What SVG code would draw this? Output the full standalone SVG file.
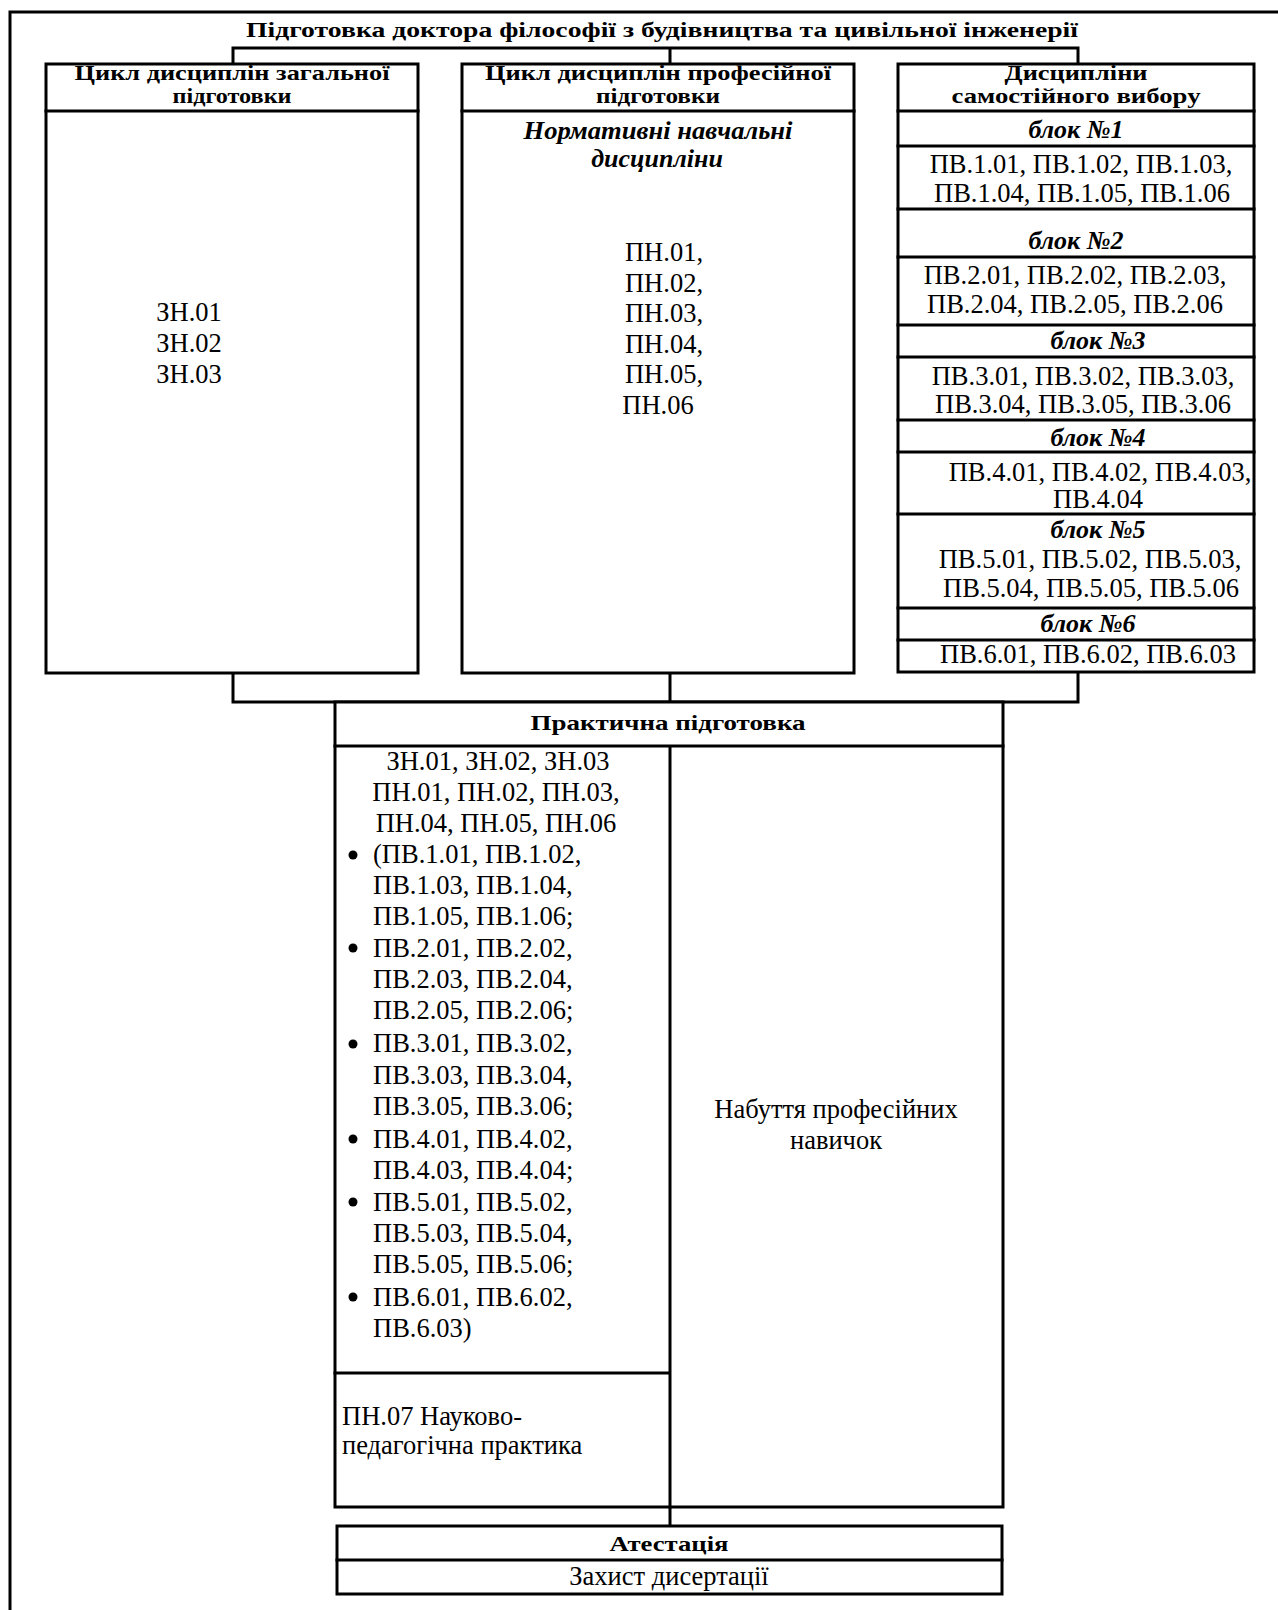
<svg xmlns="http://www.w3.org/2000/svg" width="1278" height="1610" viewBox="0 0 1278 1610">
<style>
.box{fill:#fff;stroke:#000;stroke-width:3}
.ln{fill:none;stroke:#000;stroke-width:3;stroke-linecap:square}
.hd{font-family:"Liberation Serif","Times New Roman",serif;font-weight:bold;font-size:21px;fill:#000;text-anchor:middle}
.bi{font-family:"Liberation Serif","Times New Roman",serif;font-weight:bold;font-style:italic;font-size:26px;fill:#000;text-anchor:middle}
.tx{font-family:"Liberation Serif","Times New Roman",serif;font-size:26.5px;fill:#000;text-anchor:middle}
.tl{font-family:"Liberation Serif","Times New Roman",serif;font-size:26.5px;fill:#000}
</style>
<rect width="1278" height="1610" fill="#fff"/>
<path class="ln" d="M10,1612 V12 H1280"/>
<text class="hd" x="662" y="37" font-size="24" textLength="832" lengthAdjust="spacingAndGlyphs">Підготовка доктора філософії з будівництва та цивільної інженерії</text>
<g id="connectors">
<path class="ln" d="M233,64 V48 H1078 V64 M670,48 V64"/>
<path class="ln" d="M233,673 V702 H1078 V673 M670,673 V702"/>
<path class="ln" d="M670,1506 V1526"/>
</g>
<g id="general">
<rect class="box" x="46" y="64" width="372" height="609"/>
<path class="ln" d="M46,111 H418"/>
<text class="hd" x="232" y="80" textLength="315" lengthAdjust="spacingAndGlyphs">Цикл дисциплін загальної</text>
<text class="hd" x="232" y="103" textLength="119" lengthAdjust="spacingAndGlyphs">підготовки</text>
<text class="tx" x="189" y="321">ЗН.01</text>
<text class="tx" x="189" y="352">ЗН.02</text>
<text class="tx" x="189" y="383">ЗН.03</text>
</g>
<g id="professional">
<rect class="box" x="462" y="64" width="392" height="609"/>
<path class="ln" d="M462,111 H854"/>
<text class="hd" x="658" y="80" textLength="346" lengthAdjust="spacingAndGlyphs">Цикл дисциплін професійної</text>
<text class="hd" x="658" y="103" textLength="124" lengthAdjust="spacingAndGlyphs">підготовки</text>
<text class="bi" x="658" y="139" font-size="25" textLength="269" lengthAdjust="spacingAndGlyphs">Нормативні навчальні</text>
<text class="bi" x="657" y="167" font-size="25">дисципліни</text>
<text class="tx" x="664" y="261">ПН.01,</text>
<text class="tx" x="664" y="292">ПН.02,</text>
<text class="tx" x="664" y="322">ПН.03,</text>
<text class="tx" x="664" y="353">ПН.04,</text>
<text class="tx" x="664" y="383">ПН.05,</text>
<text class="tx" x="658" y="414">ПН.06</text>
</g>
<g id="elective">
<rect class="box" x="898" y="64" width="356" height="608"/>
<path class="ln" d="M898,111 H1254 M898,146 H1254 M898,209 H1254 M898,257 H1254 M898,325 H1254 M898,357 H1254 M898,420 H1254 M898,452 H1254 M898,514 H1254 M898,608 H1254 M898,640 H1254"/>
<text class="hd" x="1076" y="80" textLength="143" lengthAdjust="spacingAndGlyphs">Дисципліни</text>
<text class="hd" x="1076" y="103" textLength="249" lengthAdjust="spacingAndGlyphs">самостійного вибору</text>
<text class="bi" x="1076" y="138">блок №1</text>
<text class="tx" x="1081" y="173">ПВ.1.01, ПВ.1.02, ПВ.1.03,</text>
<text class="tx" x="1082" y="202">ПВ.1.04, ПВ.1.05, ПВ.1.06</text>
<text class="bi" x="1076" y="249">блок №2</text>
<text class="tx" x="1075" y="284">ПВ.2.01, ПВ.2.02, ПВ.2.03,</text>
<text class="tx" x="1075" y="313">ПВ.2.04, ПВ.2.05, ПВ.2.06</text>
<text class="bi" x="1098" y="349">блок №3</text>
<text class="tx" x="1083" y="385">ПВ.3.01, ПВ.3.02, ПВ.3.03,</text>
<text class="tx" x="1083" y="413">ПВ.3.04, ПВ.3.05, ПВ.3.06</text>
<text class="bi" x="1098" y="446">блок №4</text>
<text class="tx" x="1100" y="481">ПВ.4.01, ПВ.4.02, ПВ.4.03,</text>
<text class="tx" x="1098" y="508">ПВ.4.04</text>
<text class="bi" x="1098" y="538">блок №5</text>
<text class="tx" x="1090" y="568">ПВ.5.01, ПВ.5.02, ПВ.5.03,</text>
<text class="tx" x="1091" y="597">ПВ.5.04, ПВ.5.05, ПВ.5.06</text>
<text class="bi" x="1088" y="632">блок №6</text>
<text class="tx" x="1088" y="663">ПВ.6.01, ПВ.6.02, ПВ.6.03</text>
</g>
<g id="practical">
<rect class="box" x="335" y="702" width="668" height="805"/>
<path class="ln" d="M335,746 H1003 M670,746 V1507 M335,1373 H670"/>
<text class="hd" x="668" y="730" font-size="24" textLength="275" lengthAdjust="spacingAndGlyphs">Практична підготовка</text>
<text class="tx" x="498" y="770">ЗН.01, ЗН.02, ЗН.03</text>
<text class="tx" x="496" y="801">ПН.01, ПН.02, ПН.03,</text>
<text class="tx" x="496" y="832">ПН.04, ПН.05, ПН.06</text>
<g>
<circle cx="353" cy="855" r="4.5"/>
<circle cx="353" cy="948" r="4.5"/>
<circle cx="353" cy="1044" r="4.5"/>
<circle cx="353" cy="1139" r="4.5"/>
<circle cx="353" cy="1202" r="4.5"/>
<circle cx="353" cy="1297" r="4.5"/>
</g>
<text class="tl" x="373" y="863">(ПВ.1.01, ПВ.1.02,</text>
<text class="tl" x="373" y="894">ПВ.1.03, ПВ.1.04,</text>
<text class="tl" x="373" y="925">ПВ.1.05, ПВ.1.06;</text>
<text class="tl" x="373" y="957">ПВ.2.01, ПВ.2.02,</text>
<text class="tl" x="373" y="988">ПВ.2.03, ПВ.2.04,</text>
<text class="tl" x="373" y="1019">ПВ.2.05, ПВ.2.06;</text>
<text class="tl" x="373" y="1052">ПВ.3.01, ПВ.3.02,</text>
<text class="tl" x="373" y="1084">ПВ.3.03, ПВ.3.04,</text>
<text class="tl" x="373" y="1115">ПВ.3.05, ПВ.3.06;</text>
<text class="tl" x="373" y="1148">ПВ.4.01, ПВ.4.02,</text>
<text class="tl" x="373" y="1179">ПВ.4.03, ПВ.4.04;</text>
<text class="tl" x="373" y="1211">ПВ.5.01, ПВ.5.02,</text>
<text class="tl" x="373" y="1242">ПВ.5.03, ПВ.5.04,</text>
<text class="tl" x="373" y="1273">ПВ.5.05, ПВ.5.06;</text>
<text class="tl" x="373" y="1306">ПВ.6.01, ПВ.6.02,</text>
<text class="tl" x="373" y="1337">ПВ.6.03)</text>
<text class="tl" x="342" y="1425" font-size="25">ПН.07 Науково-</text>
<text class="tl" x="342" y="1454" font-size="25">педагогічна практика</text>
<text class="tx" x="836" y="1118">Набуття професійних</text>
<text class="tx" x="836" y="1149">навичок</text>
</g>
<g id="attestation">
<rect class="box" x="337" y="1526" width="665" height="68"/>
<path class="ln" d="M337,1560 H1002"/>
<text class="hd" x="669" y="1551" font-size="24" textLength="119" lengthAdjust="spacingAndGlyphs">Атестація</text>
<text class="tx" x="669" y="1585">Захист дисертації</text>
</g>
</svg>
